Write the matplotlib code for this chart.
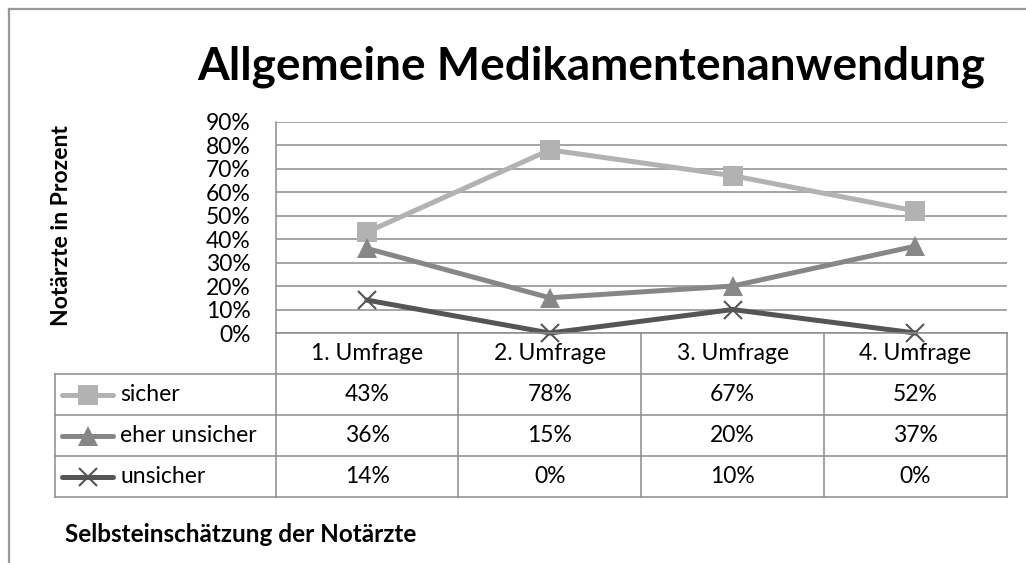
import numpy as np
import matplotlib.pyplot as plt

umfragen = ["1. Umfrage", "2. Umfrage", "3. Umfrage", "4. Umfrage"]
serien = ["sicher", "eher unsicher", "unsicher"]
sicher = [43, 78, 67, 52]
eher_unsicher = [36, 15, 20, 37]
unsicher = [14, 0, 10, 0]
yticks = [0, 10, 20, 30, 40, 50, 60, 70, 80, 90]

werte = [sicher, eher_unsicher, unsicher]
farben = ["#b2b2b2", "#878787", "#555555"]
marker = ["s", "^", "x"]
msize = [14, 15, 13]

W, H = 1026, 563
plt.rcParams['font.family'] = ['Lato', 'DejaVu Sans']
fig = plt.figure(figsize=(W/100, H/100), dpi=100)

def box(l, t, r, b):
	return [l/W, 1-b/H, (r-l)/W, (b-t)/H]

grau = "#8c8c8c"

# outer chart frame (top and left only visible)
fig.add_artist(plt.Line2D([9/W, 1], [1-9/H, 1-9/H], color="#999999", lw=1.6))
fig.add_artist(plt.Line2D([9/W, 9/W], [0, 1-9/H], color="#999999", lw=1.6))

# plot area
ax = fig.add_axes(box(275.7, 121.7, 1006.7, 333))
x = np.arange(len(umfragen)) + 0.5
ax.set_xlim(0, len(umfragen))
ax.set_ylim(0, 90)
ax.set_yticks(yticks)
ax.set_yticklabels([f"{v}%" for v in yticks], fontsize=16.5)
ax.tick_params(axis="y", length=0, pad=18)
ax.set_xticks([])
ax.yaxis.grid(True, color=grau, lw=1.1)
ax.set_axisbelow(True)
for s in ["top", "right", "bottom"]:
	ax.spines[s].set_visible(False)
ax.spines["left"].set_color(grau)
ax.spines["left"].set_linewidth(1.1)
for v, c, m, ms in zip(werte, farben, marker, msize):
	mew = 1.5 if m == "x" else 0
	ax.plot(x, v, color=c, lw=3.6, marker=m, ms=ms, mec=c, mfc=c, mew=mew,
		clip_on=False, zorder=3)

# data table below
tab = fig.add_axes(box(55, 333, 1006.7, 497.3))
links = -(275.7-55)/182.75
tab.set_xlim(links, len(umfragen))
tab.set_ylim(4, 0)
tab.axis("off")
lk = dict(color=grau, lw=1.1, clip_on=False)
tab.plot([0, 4], [0, 0], **lk)
for r in range(1, 5):
	tab.plot([links, 4], [r, r], **lk)
tab.plot([links, links], [1, 4], **lk)
for c in range(5):
	tab.plot([c, c], [0, 4], **lk)
for i, u in enumerate(umfragen):
	tab.text(i+0.5, 0.5, u, ha="center", va="center", fontsize=16.5)
k0 = (62-275.7)/182.75
k1 = (113-275.7)/182.75
for r, (name, v, c, m, ms) in enumerate(zip(serien, werte, farben, marker, msize)):
	y = r + 1.5
	mew = 1.5 if m == "x" else 0
	tab.plot([k0, k1], [y, y], color=c, lw=3.6, solid_capstyle="round", clip_on=False)
	tab.plot([(k0+k1)/2], [y], color=c, marker=m, ms=ms, mec=c, mfc=c, mew=mew, clip_on=False)
	tab.text((120-275.7)/182.75, y, name, ha="left", va="center", fontsize=16.5)
	for i, val in enumerate(v):
		tab.text(i+0.5, y, f"{val}%", ha="center", va="center", fontsize=16.5)

fig.text(591/W, 1-80/H, "Allgemeine Medikamentenanwendung", ha="center", va="baseline",
	fontsize=33, fontweight="bold")
fig.text(62/W, 1-226/H, "Notärzte in Prozent", ha="center", va="center", rotation=90,
	fontsize=16.5, fontweight="bold")
fig.text(65/W, 1-542/H, "Selbsteinschätzung der Notärzte", ha="left", va="baseline",
	fontsize=17.5, fontweight="bold")

fig.savefig("out.png", dpi=100)
